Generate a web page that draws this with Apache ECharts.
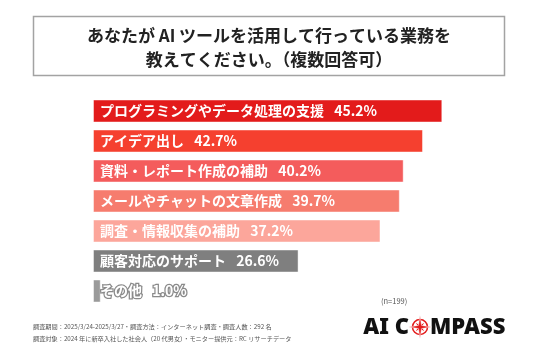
<!DOCTYPE html>
<html>
<head>
<meta charset="utf-8">
<script src="https://cdn.jsdelivr.net/npm/echarts@6/dist/echarts.min.js"></script>
<style>
html,body{margin:0;padding:0;background:#fff;}
#c{width:536px;height:357px;}
</style>
</head>
<body>
<div id="c"></div>
<script>
const categories = ['プログラミングやデータ処理の支援','アイデア出し','資料・レポート作成の補助','メールやチャットの文章作成','調査・情報収集の補助','顧客対応のサポート','その他'];
const values = [45.2, 42.7, 40.2, 39.7, 37.2, 26.6, 1.0];
const barColors = ['#e31b1b','#f5402f','#f45c5c','#f67c6e','#fca69b','#7f7f7f','#9a9a9a'];
const titleLines = ['あなたが AI ツールを活用して行っている業務を','教えてください。（複数回答可）'];
const noteLines = ['調査期間：2025/3/24-2025/3/27・調査方法：インターネット調査・調査人数：292 名','調査対象：2024 年に新卒入社した社会人（20 代男女）・モニター提供元：RC リサーチデータ'];
const sampleNote = '(n=199)';

const FONT = '"Noto Sans CJK JP","Noto Sans",sans-serif';
const chart = echarts.init(document.getElementById('c'), null, {renderer:'canvas'});

const data = values.map((v,i)=>({
  value: v,
  itemStyle: {color: barColors[i]},
  label: i === values.length-1 ? {textBorderColor:'#8a8a8a', textBorderWidth:2.5} : {}
}));

function starPoints(cx, cy, rOut, rIn, n, rot){
  const pts=[];
  for(let k=0;k<n*2;k++){
    const r = k%2===0 ? rOut : rIn;
    const a = rot + k*Math.PI/n;
    pts.push([cx + r*Math.sin(a), cy - r*Math.cos(a)]);
  }
  return pts;
}
const ccx = 420, ccy = 327;

chart.setOption({
  animation:false,
  grid:{left:93, right:56.6, top:96, bottom:51, containLabel:false},
  xAxis:{type:'value', min:0, max:50, show:false},
  yAxis:{type:'category', data:categories, inverse:true, show:false},
  series:[{
    type:'bar',
    data:data,
    barWidth:23,
    itemStyle:{borderColor:'rgba(255,255,255,0.45)', borderWidth:1},
    label:{
      show:true,
      position:'insideLeft',
      distance:7,
      color:'#fff',
      fontFamily:FONT,
      fontWeight:'bold',
      fontSize:14,
      formatter:(p)=>categories[p.dataIndex]+'\u2002 '+values[p.dataIndex].toFixed(1)+'%'
    }
  }],
  graphic:[
    {type:'rect', shape:{x:33.5,y:16.5,width:471,height:59}, style:{fill:'#fff', stroke:'#a3a3a3', lineWidth:1.5}, z:1},
    {type:'text', x:269, y:36, style:{text:titleLines[0], font:'bold 17px '+FONT, fill:'#222', align:'center', verticalAlign:'middle'}, z:2},
    {type:'text', x:269, y:60, style:{text:titleLines[1], font:'bold 17px '+FONT, fill:'#222', align:'center', verticalAlign:'middle'}, z:2},
    {type:'text', x:381, y:301, style:{text:sampleNote, font:'7.5px '+FONT, fill:'#555', align:'left', verticalAlign:'middle'}},
    {type:'text', x:33, y:327, style:{text:noteLines[0], font:'6.2px '+FONT, fill:'#555', align:'left', verticalAlign:'middle'}},
    {type:'text', x:33, y:339, style:{text:noteLines[1], font:'6.2px '+FONT, fill:'#555', align:'left', verticalAlign:'middle'}},
    {type:'text', x:409, y:328, style:{text:'AI C', font:'900 22px "Noto Sans",'+FONT, fill:'#111', align:'right', verticalAlign:'middle'}},
    {type:'text', x:430, y:328, style:{text:'MPASS', font:'900 22px "Noto Sans",'+FONT, fill:'#111', align:'left', verticalAlign:'middle'}},
    {type:'circle', shape:{cx:ccx, cy:ccy, r:7.5}, style:{fill:'none', stroke:'#e31b1b', lineWidth:1.6}},
    {type:'polygon', shape:{points:starPoints(ccx,ccy,6,1.5,4,Math.PI/4)}, style:{fill:'#e31b1b'}},
    {type:'polygon', shape:{points:starPoints(ccx,ccy,11.5,2.2,4,0)}, style:{fill:'#e31b1b', stroke:'#fff', lineWidth:0.5}}
  ]
});
</script>
</body>
</html>
